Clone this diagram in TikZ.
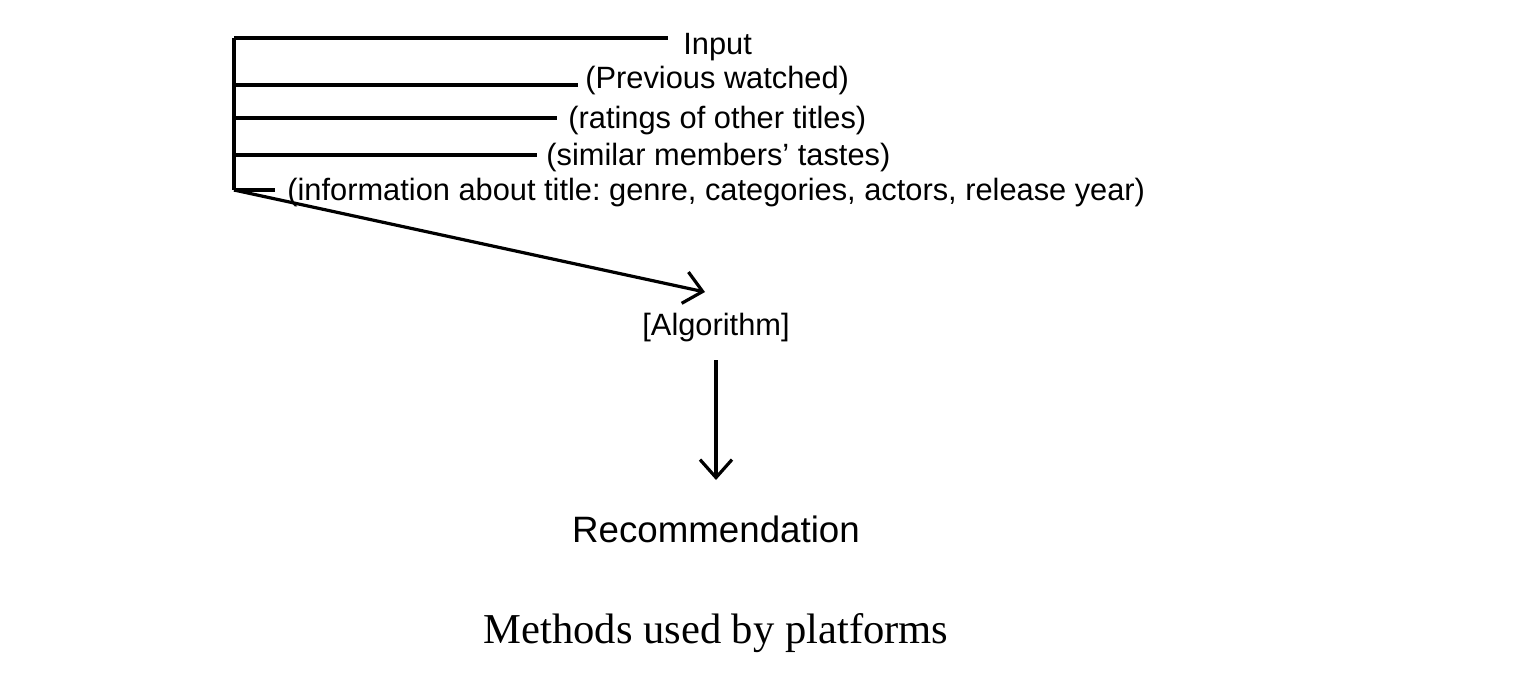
\documentclass[tikz,border=0pt]{standalone}
\usepackage{fontspec}
\setmainfont{Liberation Serif}
\newfontfamily\arialf{Liberation Sans}
\usetikzlibrary{arrows.meta}
\frenchspacing
\begin{document}
\begin{tikzpicture}[x=0.5pt,y=-0.5pt,
  wire/.style={line width=1.6pt},
  flow/.style={line width=1.6pt,-{Straight Barb[length=9pt,width=16pt,line width=1.6pt]}},
  lbl/.style={font=\arialf\fontsize{15.4}{17}\selectfont,inner sep=0pt,anchor=west},
  big/.style={font=\arialf\fontsize{18.35}{21}\selectfont,inner sep=0pt},
  captxt/.style={font=\fontsize{21.3}{25}\selectfont,inner sep=0pt}]
\useasboundingbox (0,0) rectangle (1534,692);
\coordinate (top) at (234,38);
\coordinate (bot) at (234,190);
\node[lbl] (in) at (683,47) {Input};
\node[lbl] (pw) at (585,81) {(Previous watched)};
\node[lbl] (ro) at (568,121) {(ratings of other titles)};
\node[lbl] (sm) at (546,158) {(similar members’ tastes)};
\node[lbl] (it) at (287,193) {(information about title: genre, categories, actors, release year)};
\node[lbl,anchor=center] (alg) at (716,328) {[Algorithm]};
\node[big] (rec) at (716,529) {Recommendation};
\node[captxt] (mt) at (716,633) {Methods used by platforms};
\coordinate (c1) at (234,85);
\coordinate (c2) at (234,118);
\coordinate (c3) at (234,155);
\coordinate (ah) at (705,292);
\coordinate (as) at (716,360);
\coordinate (ae) at (716,480);
\draw[wire] (top) -- (bot);
\draw[wire] (top) -- (668,38);
\draw[wire] (c1) -- (578,85);
\draw[wire] (c2) -- (557,118);
\draw[wire] (c3) -- (537,155);
\draw[wire] (bot) -- (275,190);
\draw[flow] (bot) -- (ah);
\draw[flow] (as) -- (ae);
\end{tikzpicture}
\end{document}
